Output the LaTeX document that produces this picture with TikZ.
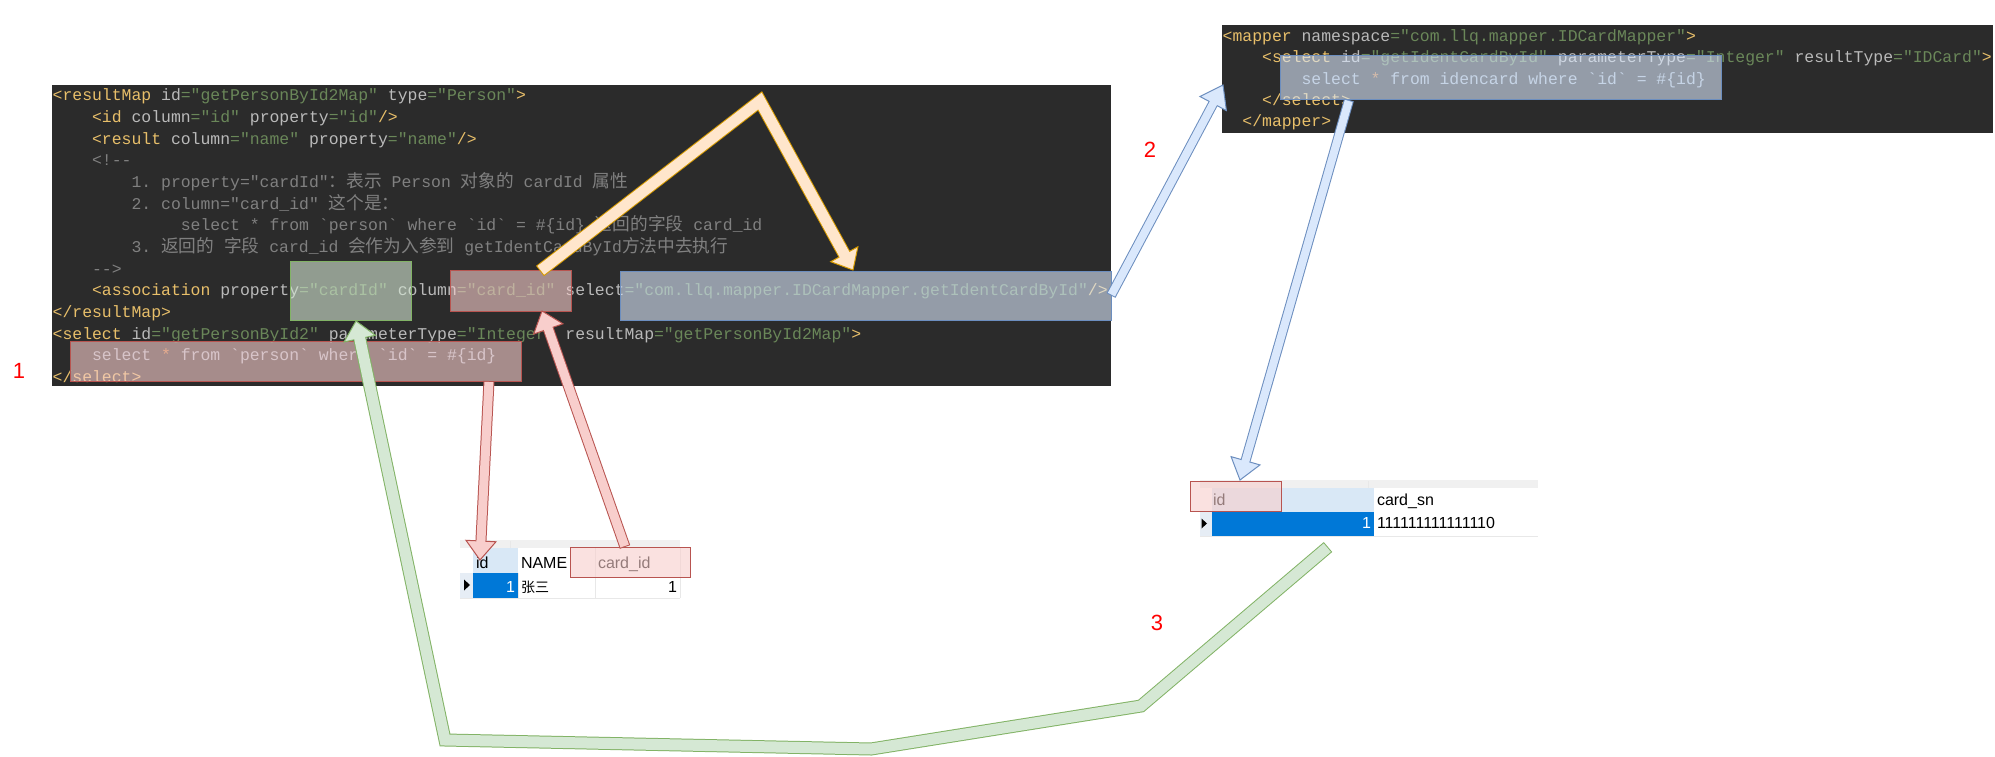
\documentclass[tikz,border=0pt]{standalone}
\usepackage{fontspec}
\setmonofont{Liberation Mono}
\newfontfamily\cjkfont{Noto Sans CJK SC}
\newfontfamily\uifont{Liberation Sans}
\usetikzlibrary{calc}
\definecolor{darkbg}{HTML}{2B2B2B}
\definecolor{ctag}{HTML}{E8BF6A}
\definecolor{cattr}{HTML}{BABABA}
\definecolor{cval}{HTML}{6A8759}
\definecolor{ccom}{HTML}{808080}
\definecolor{ctext}{HTML}{A9B7C6}
\definecolor{cstar}{HTML}{CC7832}
\definecolor{rstroke}{HTML}{B85450}
\definecolor{rfill}{HTML}{F8CECC}
\definecolor{gstroke}{HTML}{82B366}
\definecolor{gfill}{HTML}{D5E8D4}
\definecolor{bstroke}{HTML}{6C8EBF}
\definecolor{bfill}{HTML}{DAE8FC}
\definecolor{ostroke}{HTML}{D79B00}
\definecolor{ofill}{HTML}{FFE6CC}
\definecolor{tblue}{HTML}{0078D7}
\definecolor{thead}{HTML}{D9E8F6}
\definecolor{tstrip}{HTML}{F0F0F0}
\definecolor{tsel}{HTML}{E6EDF5}
\definecolor{tgrid}{HTML}{E8E8E8}
\newcommand\tg[1]{\textcolor{ctag}{#1}}
\newcommand\at[1]{\textcolor{cattr}{#1}}
\newcommand\vl[1]{\textcolor{cval}{#1}}
\newcommand\cm[1]{\textcolor{ccom}{#1}}
\newcommand\tx[1]{\textcolor{ctext}{#1}}
\newcommand\st[1]{\textcolor{cstar}{#1}}
\newcommand\zh[1]{{\cjkfont\fontsize{17.7pt}{20pt}\selectfont #1}}
% flex arrow: #1 stroke, #2 fill, #3 inner width, #4 path up to prev, #5 prev, #6 tip, #7 head length, #8 half head width
\newcommand\flexarrow[8]{%
  \coordinate (fab) at ($(#6)!#7pt!(#5)$);
  \coordinate (fac) at ($(fab)!1.5pt!(#6)$);
  \coordinate (fa1) at ($(fab)!#8pt!90:(#6)$);
  \coordinate (fa2) at ($(fab)!#8pt!-90:(#6)$);
  \draw[#1, line width={#3pt+2pt}, line join=miter, line cap=butt] #4 -- (fab);
  \draw[draw=#1, fill=#2, line width=1pt, line join=miter] (#6) -- (fa1) -- (fa2) -- cycle;
  \draw[#2, line width=#3pt, line join=miter, line cap=butt, shorten <=1pt] #4 -- (fac);
}
\begin{document}
\begin{tikzpicture}[x=1pt,y=-1pt,
  code/.style={anchor=base west, inner sep=0pt, outer sep=0pt, text=cattr,
    font=\ttfamily\fontsize{16.43pt}{20pt}\selectfont},
  hl/.style={draw, line width=1pt, inner sep=0pt, outer sep=0pt, fill opacity=0.6},
  hlred/.style={hl, draw=rstroke, fill=rfill},
  hlgreen/.style={hl, draw=gstroke, fill=gfill},
  hlblue/.style={hl, draw=bstroke, fill=bfill},
  tbl/.style={anchor=base west, inner sep=0pt, outer sep=0pt, text=black,
    font=\uifont\fontsize{16pt}{19pt}\selectfont},
  tblr/.style={tbl, anchor=base east},
  lbl/.style={inner sep=0pt, text=red, font=\uifont\fontsize{22pt}{24pt}\selectfont}
]
\useasboundingbox[fill=white] (0,0) rectangle (1995,757);

% ---------- code block 1 ----------
\fill[darkbg] (52,85) rectangle (1110.7,386);
\node[code] (l1) at (52.7,101.0) {\tg{<resultMap} \at{id}\vl{="getPersonById2Map"} \at{type}\vl{="Person"}\tg{>}};
\node[code] (l2) at (92.14,122.65) {\tg{<id} \at{column}\vl{="id"} \at{property}\vl{="id"}\tg{/>}};
\node[code] (l3) at (92.14,144.3) {\tg{<result} \at{column}\vl{="name"} \at{property}\vl{="name"}\tg{/>}};
\node[code] (l4) at (92.14,165.95) {\cm{<!--}};
\node[code] (l5) at (131.58,187.6) {\cm{1. property="cardId"\zh{：表示} Person \zh{对象的} cardId \zh{属性}}};
\node[code] (l6) at (131.58,209.25) {\cm{2. column="card\_id" \zh{这个是：}}};
\node[code] (l7) at (180.88,230.9) {\cm{select * from `person` where `id` = \#\{id\} \zh{返回的字段} card\_id}};
\node[code] (l8) at (131.58,252.55) {\cm{3. \zh{返回的} \zh{字段} card\_id \zh{会作为入参到} getIdentCardById\zh{方法中去执行}}};
\node[code] (l9) at (92.14,274.2) {\cm{-->}};
\node[code] (l10) at (92.14,295.85) {\tg{<association} \at{property}\vl{="cardId"} \at{column}\vl{="card\_id"} \at{select}\vl{="com.llq.mapper.IDCardMapper.getIdentCardById"}\tg{/>}};
\node[code] (l11) at (52.7,317.5) {\tg{</resultMap>}};
\node[code] (l12) at (52.7,339.15) {\tg{<select} \at{id}\vl{="getPersonById2"} \at{parameterType}\vl{="Integer"} \at{resultMap}\vl{="getPersonById2Map"}\tg{>}};
\node[code] (l13) at (92.14,360.8) {\tx{select} \st{*} \tx{from `person` where `id` = \#\{id\}}};
\node[code] (l14) at (52.7,382.45) {\tg{</select>}};

% ---------- code block 2 ----------
\fill[darkbg] (1222,25) rectangle (1993,133);
\node[code] (m1) at (1222.7,41.7) {\tg{<mapper} \at{namespace}\vl{="com.llq.mapper.IDCardMapper"}\tg{>}};
\node[code] (m2) at (1262.14,63.0) {\tg{<select} \at{id}\vl{="getIdentCardById"} \at{parameterType}\vl{="Integer"} \at{resultType}\vl{="IDCard"}\tg{>}};
\node[code] (m3) at (1301.58,84.3) {\tx{select} \st{*} \tx{from idencard where `id` = \#\{id\}}};
\node[code] (m4) at (1262.14,105.6) {\tg{</select>}};
\node[code] (m5) at (1242.42,126.9) {\tg{</mapper>}};

% ---------- table 1 (person) ----------
\fill[tstrip] (460,540) rectangle (680,548);
\draw[tgrid, line width=0.8pt] (510.7,541) -- (510.7,548);
\fill[thead] (473,548) rectangle (518,573);
\fill[tsel] (460,573) rectangle (473,598);
\fill[tblue] (473,573) rectangle (518,598);
\draw[tgrid, line width=0.8pt] (460,598) -- (680,598) (518,573) -- (518,598) (595,548) -- (595,598) (680,548) -- (680,598);
\fill[black] (464,579.5) -- (464,590.5) -- (470,585) -- cycle;
\node[tbl] (t1h1) at (476,568.3) {id};
\node[tbl] (t1h2) at (521,568.3) {NAME};
\node[tbl] (t1h3) at (598,568.3) {card\_id};
\node[tblr, text=white] (t1c1) at (515,592.7) {1};
\node[tbl] (t1c2) at (521,592.7) {{\cjkfont\fontsize{14pt}{16pt}\selectfont 张三}};
\node[tblr] (t1c3) at (677,592.7) {1};

% ---------- table 2 (idcard) ----------
\fill[tstrip] (1200,480) rectangle (1538,488);
\draw[tgrid, line width=0.8pt] (1368,481) -- (1368,488);
\fill[thead] (1212,488) rectangle (1374,512);
\fill[tsel] (1200,512) rectangle (1212,536);
\fill[tblue] (1212,512) rectangle (1374,536);
\draw[tgrid, line width=0.8pt] (1200,536) -- (1538,536);
\fill[black] (1201.5,518.5) -- (1201.5,528.5) -- (1207,523.5) -- cycle;
\node[tbl] (t2h1) at (1213,505) {id};
\node[tbl] (t2h2) at (1377,505) {card\_sn};
\node[tblr, text=white] (t2c1) at (1371,528.3) {1};
\node[tbl] (t2c2) at (1377,528.3) {111111111111110};

% ---------- highlight overlays ----------
\node[hlgreen, minimum width=121pt, minimum height=59pt] (hlCardId) at (350.5,290.5) {};
\node[hlred, minimum width=121pt, minimum height=41pt] (hlColumn) at (510.5,290.5) {};
\node[hlblue, minimum width=491pt, minimum height=49pt] (hlSelect) at (865.5,295.5) {};
\node[hlred, minimum width=451pt, minimum height=40pt] (hlSql) at (295.5,361) {};
\node[hlblue, minimum width=441pt, minimum height=44pt] (hlSql2) at (1500.5,78) {};
\node[hlred, minimum width=120pt, minimum height=30pt] (hlT1) at (630,562) {};
\node[hlred, minimum width=91pt, minimum height=30pt] (hlT2) at (1235.5,496) {};

% ---------- labels ----------
\node[lbl] (n1) at (19,371) {1};
\node[lbl] (n2) at (1150,150) {2};
\node[lbl] (n3) at (1157,623) {3};

% ---------- arrows ----------
\coordinate (o0) at (540,271);
\coordinate (o1) at (760,101);
\coordinate (o2) at (853,270);
\flexarrow{ostroke}{ofill}{11}{(o0) -- (o1)}{o1}{o2}{18}{15.5}

\coordinate (b0) at (hlSelect.east);
\coordinate (b1) at (1223,85);
\flexarrow{bstroke}{bfill}{8}{(b0)}{b0}{b1}{21}{15}

\coordinate (c0) at (1349,100);
\coordinate (c1) at (1240,480);
\flexarrow{bstroke}{bfill}{8}{(c0)}{c0}{c1}{20}{15}

\coordinate (r0) at (489,381);
\coordinate (r1) at (480,560);
\flexarrow{rstroke}{rfill}{9}{(r0)}{r0}{r1}{19}{15}

\coordinate (s0) at (625,547);
\coordinate (s1) at (542,311);
\flexarrow{rstroke}{rfill}{9}{(s0)}{s0}{s1}{19}{15.5}

\coordinate (g0) at (1328,547);
\coordinate (g1) at (1141,706);
\coordinate (g2) at (871,749);
\coordinate (g3) at (445,740);
\coordinate (g4) at (356,321);
\flexarrow{gstroke}{gfill}{11}{(g0) -- (g1) -- (g2) -- (g3)}{g3}{g4}{18}{16}
\end{tikzpicture}
\end{document}
